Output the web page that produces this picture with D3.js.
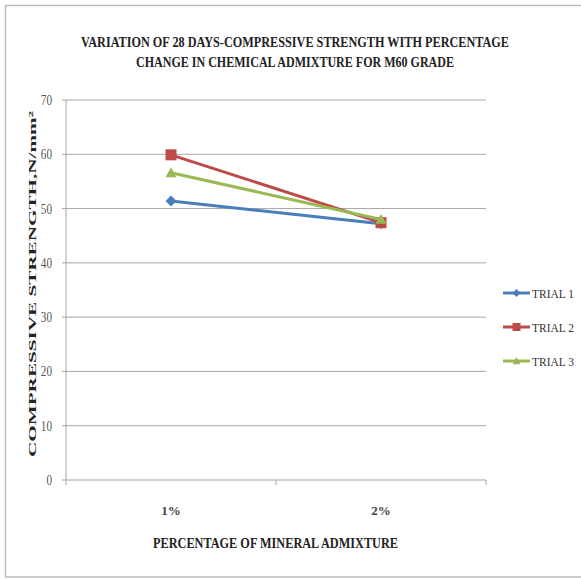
<!DOCTYPE html>
<html><head><meta charset="utf-8">
<script src="https://cdn.jsdelivr.net/npm/d3@7"></script>
<style>body{margin:0;background:#fff}svg{display:block}</style>
</head><body>
<svg id="c" width="581" height="579"></svg>
<script>
const categories = ["1%", "2%"];
const trial1 = [51.4, 47.2];
const trial2 = [59.9, 47.4];
const trial3 = [56.6, 48.0];
const seriesNames = ["TRIAL 1", "TRIAL 2", "TRIAL 3"];
const seriesColors = ["#4a7ebb", "#be4b48", "#98b954"];
const seriesMarkers = ["diamond", "square", "triangle"];
const yTicks = [0, 10, 20, 30, 40, 50, 60, 70];
const titleLines = ["VARIATION OF 28 DAYS-COMPRESSIVE STRENGTH WITH PERCENTAGE", "CHANGE IN CHEMICAL ADMIXTURE FOR M60 GRADE"];
const xTitle = "PERCENTAGE OF MINERAL ADMIXTURE";
const yTitle = "COMPRESSIVE STRENGTH,N/mm²";

const series = [trial1, trial2, trial3];
const svg = d3.select("#c");
const font = "'Liberation Serif', 'Times New Roman', serif";

// outer frame
svg.append("rect").attr("x", 5.5).attr("y", 5.5).attr("width", 580).attr("height", 571.5)
  .attr("fill", "#fff").attr("stroke", "#bdbdbd").attr("stroke-width", 1.5);

const L = 66, R = 486, T = 100, B = 480;
const x = d3.scaleBand().domain(categories).range([L, R]);
const y = d3.scaleLinear().domain([0, 70]).range([B, T]);

// gridlines
svg.append("g").selectAll("line").data(yTicks).join("line")
  .attr("x1", L - 4).attr("x2", R).attr("y1", d => y(d)).attr("y2", d => y(d))
  .attr("stroke", "#a6a6a6").attr("stroke-width", 1);

// y axis line
svg.append("line").attr("x1", L).attr("x2", L).attr("y1", T).attr("y2", B)
  .attr("stroke", "#a6a6a6");

// x axis ticks
const xTickPos = [L, ...categories.map(c => x(c) + x.bandwidth())];
svg.append("g").selectAll("line").data(xTickPos).join("line")
  .attr("x1", d => d).attr("x2", d => d).attr("y1", B).attr("y2", B + 5)
  .attr("stroke", "#a6a6a6");

// y tick labels
svg.append("g").selectAll("text").data(yTicks).join("text")
  .attr("x", L - 14).attr("y", d => y(d) + 5).attr("text-anchor", "end")
  .attr("font-family", font).attr("font-size", 14).attr("fill", "#555")
  .attr("transform", d => `translate(${L - 14},${y(d)}) scale(0.8,1) translate(${-(L - 14)},${-y(d)})`)
  .text(d => d);

// x tick labels
svg.append("g").selectAll("text").data(categories).join("text")
  .attr("x", d => x(d) + x.bandwidth() / 2).attr("y", 515).attr("text-anchor", "middle")
  .attr("font-family", font).attr("font-size", 13).attr("font-weight", "bold").attr("fill", "#444")
  .text(d => d);

// title
svg.append("g").selectAll("text").data(titleLines).join("text")
  .attr("x", (d, i) => i === 0 ? 81 : 136).attr("y", (d, i) => 47 + i * 20)
  .attr("textLength", (d, i) => i === 0 ? 428 : 318).attr("lengthAdjust", "spacingAndGlyphs")
  .attr("font-family", font).attr("font-size", 14).attr("font-weight", "bold").attr("fill", "#222")
  .text(d => d);

// x title
svg.append("text").attr("x", 153).attr("y", 548)
  .attr("textLength", 245).attr("lengthAdjust", "spacingAndGlyphs")
  .attr("font-family", font).attr("font-size", 14).attr("font-weight", "bold").attr("fill", "#222")
  .text(xTitle);

// y title
svg.append("text").attr("transform", "translate(36,457) rotate(-90)")
  .attr("x", 0).attr("y", 0)
  .attr("textLength", 346).attr("lengthAdjust", "spacingAndGlyphs")
  .attr("font-family", font).attr("font-size", 11).attr("font-weight", "bold").attr("fill", "#222")
  .text(yTitle);

function markerPath(type, s) {
  if (type === "diamond") return `M0,${-s}L${s},0L0,${s}L${-s},0Z`;
  if (type === "square") return `M${-s},${-s}H${s}V${s}H${-s}Z`;
  return `M0,${-s}L${s},${s * 0.8}H${-s}Z`;
}

const line = d3.line().x((d, i) => x(categories[i]) + x.bandwidth() / 2).y(d => y(d));
series.forEach((vals, si) => {
  const g = svg.append("g");
  g.append("path").attr("d", line(vals)).attr("fill", "none")
    .attr("stroke", seriesColors[si]).attr("stroke-width", 3).attr("stroke-linejoin", "round");
  g.selectAll("path.m").data(vals).join("path").attr("class", "m")
    .attr("transform", (d, i) => `translate(${x(categories[i]) + x.bandwidth() / 2},${y(d)})`)
    .attr("d", markerPath(seriesMarkers[si], 5.5)).attr("fill", seriesColors[si]);
});

// legend
const legY = [293, 327, 361];
seriesNames.forEach((n, i) => {
  const g = svg.append("g");
  g.append("line").attr("x1", 503).attr("x2", 530).attr("y1", legY[i]).attr("y2", legY[i])
    .attr("stroke", seriesColors[i]).attr("stroke-width", 3);
  g.append("path").attr("transform", `translate(516.5,${legY[i]})`)
    .attr("d", markerPath(seriesMarkers[i], 4)).attr("fill", seriesColors[i]);
  g.append("text").attr("x", 532).attr("y", legY[i] + 4.5)
    .attr("textLength", 42).attr("lengthAdjust", "spacingAndGlyphs")
    .attr("font-family", font).attr("font-size", 12).attr("fill", "#333").text(n);
});
</script>
</body></html>
